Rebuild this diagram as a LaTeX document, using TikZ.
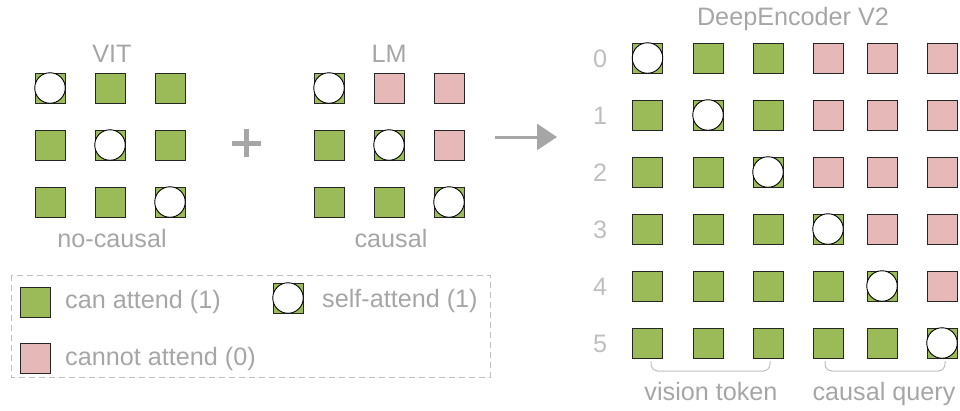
\documentclass[tikz,border=0pt]{standalone}
\usepackage{fontspec}
\setmainfont{Liberation Sans}
\usetikzlibrary{arrows.meta}

\definecolor{okgreen}{HTML}{9BBB59}
\definecolor{nopink}{HTML}{E6B9B8}
\definecolor{labelgray}{HTML}{A6A6A6}
\definecolor{lightgray}{HTML}{BFBFBF}
\definecolor{cellline}{HTML}{262626}

\tikzset{
  cell/.style={rectangle, draw=cellline, line width=0.9pt, minimum size=30pt, inner sep=0pt},
  can/.style={cell, fill=okgreen},
  cannot/.style={cell, fill=nopink},
  selfdot/.style={circle, draw=black, line width=0.9pt, fill=white, minimum size=30.5pt, inner sep=0pt},
  lbl/.style={text=labelgray, font=\fontsize{25.2}{29}\selectfont, inner sep=0pt, anchor=base},
  rowlbl/.style={lbl, text=lightgray},
  legtext/.style={lbl, anchor=base west},
  bracket/.style={draw=lightgray, line width=1pt, rounded corners=7pt},
}

\begin{document}
\begin{tikzpicture}[x=1pt, y=-1pt]
\useasboundingbox (0,0) rectangle (960,410);

% ViT: full (bidirectional) attention
\foreach \y [count=\r from 0] in {88,145,202}{
  \foreach \x [count=\c from 0] in {50,110,170}{
    \node[can] (v-\r-\c) at (\x,\y) {};
    \ifnum\c=\r \node[selfdot] (vs-\r) at (\x,\y) {};\fi
  }
}
\node[lbl] (vit) at (112,62) {VIT};
\node[lbl] (vitcap) at (112,247) {no-causal};

% plus sign
\coordinate (plusc) at (246.5,143);
\draw[labelgray, line width=5pt] ([xshift=-14.5pt]plusc) -- ([xshift=14.5pt]plusc);
\draw[labelgray, line width=5pt] ([yshift=-14pt]plusc) -- ([yshift=14pt]plusc);

% LM: causal (lower-triangular) attention
\foreach \y [count=\r from 0] in {88,145,202}{
  \foreach \x [count=\c from 0] in {329,389,449}{
    \ifnum\c>\r \node[cannot] (l-\r-\c) at (\x,\y) {};\else \node[can] (l-\r-\c) at (\x,\y) {};\fi
    \ifnum\c=\r \node[selfdot] (ls-\r) at (\x,\y) {};\fi
  }
}
\node[lbl] (lm) at (389,62) {LM};
\node[lbl] (lmcap) at (391,247) {causal};

% combination arrow
\coordinate (arrA) at (495,137);
\coordinate (arrB) at (557,137);
\draw[labelgray, line width=3pt, -{Triangle[length=20pt, width=26pt]}] (arrA) -- (arrB);

% DeepEncoder V2 mask
\node[lbl] (title) at (793,25) {DeepEncoder V2};
\foreach \y [count=\r from 0] in {58,115,172,229,286,343}{
  \node[rowlbl] (rl-\r) at (600,\y+9.5) {\r};
  \foreach \x [count=\c from 0] in {647.5,708,768,828,882,942}{
    \pgfmathtruncatemacro\ok{(\c<3)||(\c<\r)||(\c==\r)}
    \ifnum\ok=1 \node[can] (d-\r-\c) at (\x,\y) {};\else \node[cannot] (d-\r-\c) at (\x,\y) {};\fi
    \ifnum\c=\r \node[selfdot] (ds-\r) at (\x,\y) {};\fi
  }
}

% group brackets under the last row
\coordinate (vb1) at (651,361);
\coordinate (vb2) at (770,361);
\coordinate (qb1) at (825,361);
\coordinate (qb2) at (945,361);
\draw[bracket] (vb1) -- ++(0,10) -| (vb2);
\draw[bracket] (qb1) -- ++(0,10) -| (qb2);
\node[lbl] (vtok) at (711,400) {vision token};
\node[lbl] (cq) at (884,400) {causal query};

% legend
\draw[draw=lightgray, line width=1pt, dash pattern=on 6pt off 4pt] (11,275) rectangle (490,377);
\node[can] (leg-can) at (35,302) {};
\node[legtext] (leg-cant) at (65,308) {can attend (1)};
\node[can] (leg-self) at (288,298) {};
\node[selfdot] (leg-selfd) at (288,298) {};
\node[legtext] (leg-selft) at (322,307) {self-attend (1)};
\node[cannot] (leg-no) at (35,358) {};
\node[legtext] (leg-not) at (65,365) {cannot attend (0)};
\end{tikzpicture}
\end{document}
